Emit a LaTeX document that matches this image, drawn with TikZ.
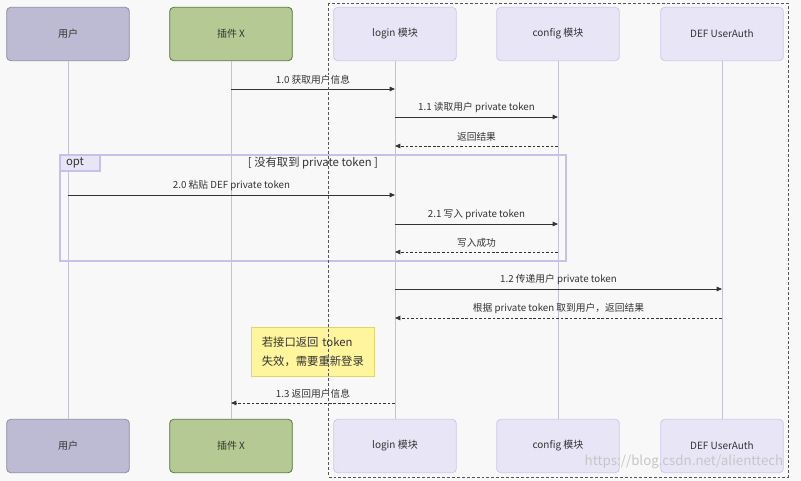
\documentclass[tikz,border=0pt]{standalone}
\usepackage{fontspec}
\setmainfont{Noto Sans CJK SC}
\usetikzlibrary{arrows.meta}
\definecolor{bgcol}{HTML}{F8F8F8}
\definecolor{txtcol}{HTML}{333333}
\definecolor{userfill}{HTML}{BDBBD4}
\definecolor{userline}{HTML}{8E8CA2}
\definecolor{plugfill}{HTML}{B5C994}
\definecolor{plugline}{HTML}{52783C}
\definecolor{modfill}{HTML}{E8E6F6}
\definecolor{modline}{HTML}{CDC9EA}
\definecolor{lifecol}{HTML}{C4C2D4}
\definecolor{msgcol}{HTML}{333333}
\definecolor{optline}{HTML}{C6C0EA}
\definecolor{notefill}{HTML}{FFF59C}
\definecolor{noteline}{HTML}{E2D46C}
\definecolor{groupline}{HTML}{555555}
\begin{document}
\begin{tikzpicture}[x=0.75pt,y=-0.75pt,
    every node/.style={text=txtcol},
    actor/.style={draw, rounded corners=3pt, minimum width=92pt,
      minimum height=40pt, line width=0.6pt, font=\fontsize{7.5}{9}\selectfont},
    userbox/.style={actor, fill=userfill, draw=userline},
    plugbox/.style={actor, fill=plugfill, draw=plugline},
    modbox/.style={actor, fill=modfill, draw=modline},
    life/.style={draw=lifecol, line width=0.6pt},
    msg/.style={draw=msgcol, line width=0.6pt, -{Triangle[length=4pt,width=3.4pt]}},
    reply/.style={msg, dash pattern=on 2pt off 1.4pt},
    lbl/.style={font=\fontsize{7.3}{9}\selectfont, midway, yshift=6.75pt}]
  \useasboundingbox[fill=bgcol] (0,0) rectangle (801,481);
  % participants
  \path
    (68,34) node[userbox] (u){用户}
    (231,34) node[plugbox] (p){插件 X}
    (395,34) node[modbox] (l){login 模块}
    (558,34) node[modbox] (c){config 模块}
    (722,34) node[modbox] (d){DEF UserAuth}
    (68,446) node[userbox] (ub){用户}
    (231,446) node[plugbox] (pb){插件 X}
    (395,446) node[modbox] (lb){login 模块}
    (558,446) node[modbox] (cb){config 模块}
    (722,446) node[modbox] (db){DEF UserAuth};
  \begin{scope}[life]
    \draw (u) -- (ub);
    \draw (p) -- (pb);
    \draw (l) -- (lb);
    \draw (c) -- (cb);
    \draw (d) -- (db);
  \end{scope}
  % opt frame
  \node[draw=optline, line width=1pt, minimum width=379.5pt,
    minimum height=79.5pt, inner sep=0pt] (opt) at (313,208) {};
  \node[draw=optline, fill=modfill, line width=1pt, anchor=north west,
    text width=21pt, inner xsep=4.5pt, inner ysep=0pt, minimum height=12pt,
    align=left, font=\fontsize{8.5}{9}\selectfont] (optlbl) at (opt.north west) {opt};
  \node[font=\fontsize{8.5}{9}\selectfont] (optcond) at (313,163) {[ 没有取到 private token ]};
  % message ends
  \path
    (231,89) coordinate (p1) (395,89) coordinate (l1)
    (395,117) coordinate (l2) (558,117) coordinate (c2)
    (558,146) coordinate (c3) (395,146) coordinate (l3)
    (68,195) coordinate (u4) (395,195) coordinate (l4)
    (395,224) coordinate (l5) (558,224) coordinate (c5)
    (558,252) coordinate (c6) (395,252) coordinate (l6)
    (395,289) coordinate (l7) (722,289) coordinate (d7)
    (722,318) coordinate (d8) (395,318) coordinate (l8)
    (395,403) coordinate (l9) (231,403) coordinate (p9);
  \begin{scope}
    \draw[msg] (p1) to node[lbl]{1.0 获取用户信息} (l1);
    \draw[msg] (l2) to node[lbl]{1.1 读取用户 private token} (c2);
    \draw[reply] (c3) to node[lbl]{返回结果} (l3);
    \draw[msg] (u4) to node[lbl]{2.0 粘贴 DEF private token} (l4);
    \draw[msg] (l5) to node[lbl]{2.1 写入 private token} (c5);
    \draw[reply] (c6) to node[lbl]{写入成功} (l6);
    \draw[msg] (l7) to node[lbl]{1.2 传递用户 private token} (d7);
    \draw[reply] (d8) to node[lbl]{根据 private token 取到用户，返回结果} (l8);
    \draw[reply] (l9) to node[lbl]{1.3 返回用户信息} (p9);
  \end{scope}
  % note
  \node[draw=noteline, fill=notefill, line width=0.6pt, minimum width=92.25pt,
    minimum height=36.75pt, text width=76pt, inner xsep=8.1pt, align=left,
    font=\fontsize{8.5}{14.25}\selectfont] (note) at (312.5,352)
    {若接口返回 token\\失效，需要重新登录};
  % group box
  \draw[groupline, line width=0.7pt, dash pattern=on 2.2pt off 1.5pt]
    (328.5,3.5) rectangle (788,477);
  \node[text=gray!45, font=\fontsize{10}{11}\selectfont] (mark) at (684,462)
    {https://blog.csdn.net/alienttech};
\end{tikzpicture}
\end{document}
